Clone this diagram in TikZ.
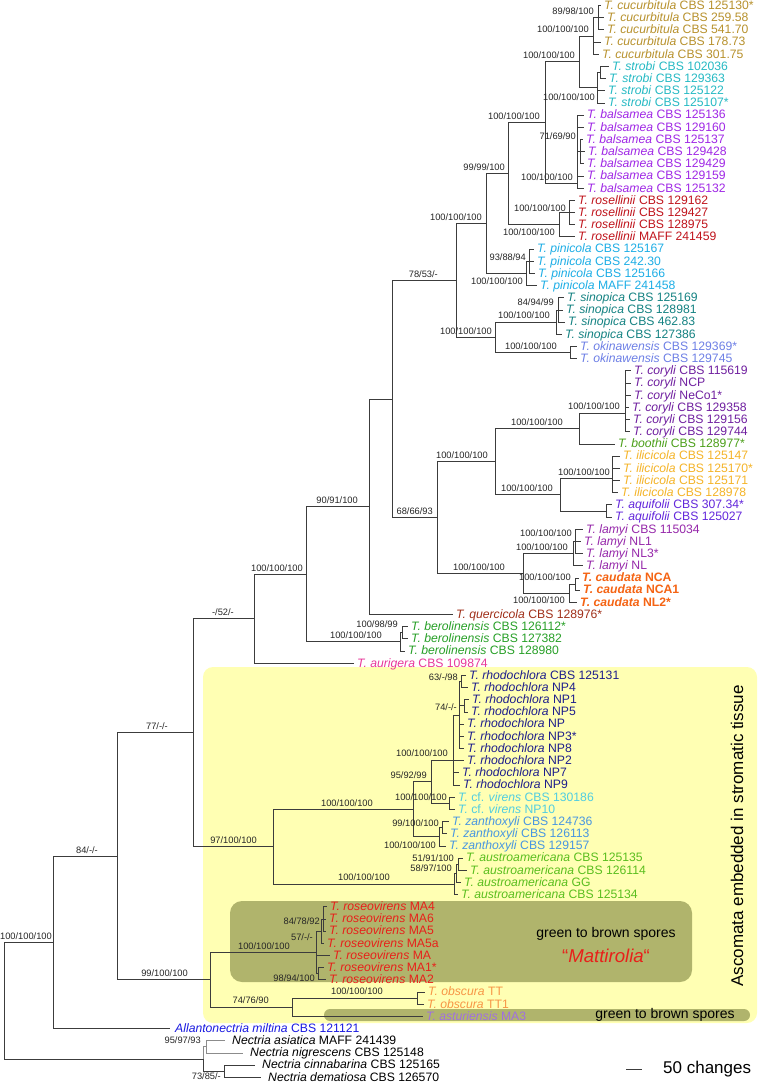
\documentclass[tikz,border=0pt]{standalone}
\usepackage{fontspec}
\setmainfont{Liberation Sans}
\usetikzlibrary{calc}
\definecolor{linecol}{RGB}{60,60,60}
\definecolor{yellowbox}{RGB}{255,255,179}
\definecolor{olivebox}{RGB}{176,180,108}
\definecolor{cCuc}{RGB}{184,146,46}
\definecolor{cStr}{RGB}{38,186,196}
\definecolor{cBal}{RGB}{160,40,230}
\definecolor{cRos}{RGB}{192,20,28}
\definecolor{cPin}{RGB}{30,174,230}
\definecolor{cSin}{RGB}{20,130,130}
\definecolor{cOki}{RGB}{110,128,230}
\definecolor{cCor}{RGB}{112,32,160}
\definecolor{cBoo}{RGB}{76,160,26}
\definecolor{cIli}{RGB}{245,180,40}
\definecolor{cAqu}{RGB}{100,40,220}
\definecolor{cLam}{RGB}{150,40,170}
\definecolor{cCau}{RGB}{245,100,20}
\definecolor{cQue}{RGB}{160,48,26}
\definecolor{cBer}{RGB}{40,160,40}
\definecolor{cAur}{RGB}{232,56,154}
\definecolor{cRho}{RGB}{30,30,140}
\definecolor{cVir}{RGB}{80,205,225}
\definecolor{cZan}{RGB}{72,150,225}
\definecolor{cAus}{RGB}{90,190,30}
\definecolor{cRsv}{RGB}{232,32,26}
\definecolor{cObs}{RGB}{247,150,70}
\definecolor{cAst}{RGB}{160,112,224}
\definecolor{cAll}{RGB}{26,26,224}
\tikzset{
  br/.style={draw=linecol, line width=0.85pt},
  brg/.style={draw=black!45, line width=0.85pt},
  taxon/.style={font=\fontsize{12.2}{14}\selectfont, inner sep=0pt, anchor=west, text height=7.6pt, text depth=0pt},
  sup/.style={font=\fontsize{9.3}{10}\selectfont, inner sep=0pt, anchor=east, text height=6.7pt, text depth=0pt, text=black!85},
}
\newcommand\tgap{3}
\newcommand\mytaxon[5]{%
  \coordinate (#1) at ({#2-\tgap},{5.5+12.18*#3});
  \node[taxon,text=#4] (#1l) at (#2,{5.5+12.18*#3}) {#5};}
\newcommand\kids[3][br]{\foreach \kid in {#3}{\draw[#1] (#2) |- (\kid);}}
\newcommand\suplab[4]{\node[sup] (#1) at (#2,#3) {#4};}
\begin{document}
\begin{tikzpicture}[x=1pt,y=-1pt]
\useasboundingbox (0,0) rectangle (760,1082);
\fill[white] (0,0) rectangle (760,1082);
% shaded regions
\fill[yellowbox, rounded corners=10pt] (203,667) rectangle (757,1023);
\fill[olivebox, rounded corners=12pt] (230,901) rectangle (692,982);
\fill[olivebox, rounded corners=6pt] (324,1009) rectangle (750,1021);
\node[font=\fontsize{14}{16}\selectfont, inner sep=0pt] (gb1) at (606,934) {green to brown spores};
\node[font=\fontsize{18.6}{20}\selectfont, inner sep=0pt, text=cRsv] (matt) at (606,956) {“\textit{Mattirolia}“};
\node[font=\fontsize{14}{16}\selectfont, inner sep=0pt] (gb2) at (665,1015) {green to brown spores};
\node[font=\fontsize{17}{19}\selectfont, inner sep=0pt, rotate=90] (asc) at (737,836) {Ascomata embedded in stromatic tissue};
% internal nodes
\coordinate (cu1) at (598,17.7);
\coordinate (cu) at (593,36);
\coordinate (st1) at (600,72.5);
\coordinate (st) at (597,87.7);
\coordinate (A) at (579,61.9);
\coordinate (ba1) at (580,151.7);
\coordinate (ba) at (577,183);
\coordinate (n545) at (545,122.5);
\coordinate (ro1) at (569,212.6);
\coordinate (ro) at (559,224.7);
\coordinate (n508) at (508,173.6);
\coordinate (pi1) at (529,261.3);
\coordinate (pi) at (526,273.5);
\coordinate (n486) at (486,223.5);
\coordinate (si1) at (558,310);
\coordinate (si) at (556,322.2);
\coordinate (ok) at (570,352.6);
\coordinate (n495a) at (495,337.4);
\coordinate (n456) at (456,280.5);
\coordinate (co) at (625,413);
\coordinate (n579) at (579,428.5);
\coordinate (il) at (612,478);
\coordinate (aq) at (606,511);
\coordinate (n560) at (560,494.5);
\coordinate (n495b) at (495,461.5);
\coordinate (la1) at (575,541.4);
\coordinate (la) at (573,553.6);
\coordinate (ca1) at (575,584);
\coordinate (ca) at (569,593.2);
\coordinate (n523) at (523,573.4);
\coordinate (n437) at (437,517.5);
\coordinate (n392) at (392,399);
\coordinate (n369) at (369,506.7);
\coordinate (be1) at (402,632.8);
\coordinate (be) at (400,641.9);
\coordinate (n306) at (306,574.3);
\coordinate (n254) at (254,618.8);
\coordinate (rh1) at (461,681.5);
\coordinate (rh2) at (464,705.9);
\coordinate (rh3) at (459,715);
\coordinate (rh) at (453,760);
\coordinate (vi) at (449,803.3);
\coordinate (n431) at (431,781.7);
\coordinate (za1) at (442,827.7);
\coordinate (za) at (439,836.8);
\coordinate (n413) at (413,809.2);
\coordinate (au1) at (458,864.2);
\coordinate (au2) at (456,873.4);
\coordinate (au) at (454,884);
\coordinate (n273) at (273,846.6);
\coordinate (n193) at (193,732.7);
\coordinate (rs1) at (323,919);
\coordinate (rs2) at (321,931.2);
\coordinate (rs3) at (318,973.8);
\coordinate (rs) at (316,952.5);
\coordinate (ob) at (417,998.2);
\coordinate (n292) at (292,1007.3);
\coordinate (n210) at (210,979.9);
\coordinate (n117) at (117,856.3);
\coordinate (n53) at (53,942.5);
\coordinate (ne1) at (206,1046.9);
\coordinate (ne2) at (224,1071.3);
\coordinate (ne) at (203,1059.1);
\coordinate (root) at (4,1000.8);
% taxa
\mytaxon{t0}{604}{0}{cCuc}{\textit{T. cucurbitula} CBS 125130*}
\mytaxon{t1}{607}{1}{cCuc}{\textit{T. cucurbitula} CBS 259.58}
\mytaxon{t2}{607}{2}{cCuc}{\textit{T. cucurbitula} CBS 541.70}
\mytaxon{t3}{604}{3}{cCuc}{\textit{T. cucurbitula} CBS 178.73}
\mytaxon{t4}{602}{4}{cCuc}{\textit{T. cucurbitula} CBS 301.75}
\mytaxon{t5}{612}{5}{cStr}{\textit{T. strobi} CBS 102036}
\mytaxon{t6}{609}{6}{cStr}{\textit{T. strobi} CBS 129363}
\mytaxon{t7}{608}{7}{cStr}{\textit{T. strobi} CBS 125122}
\mytaxon{t8}{608}{8}{cStr}{\textit{T. strobi} CBS 125107*}
\mytaxon{t9}{587}{9}{cBal}{\textit{T. balsamea} CBS 125136}
\mytaxon{t10}{587}{10}{cBal}{\textit{T. balsamea} CBS 129160}
\mytaxon{t11}{586}{11}{cBal}{\textit{T. balsamea} CBS 125137}
\mytaxon{t12}{588}{12}{cBal}{\textit{T. balsamea} CBS 129428}
\mytaxon{t13}{587}{13}{cBal}{\textit{T. balsamea} CBS 129429}
\mytaxon{t14}{587}{14}{cBal}{\textit{T. balsamea} CBS 129159}
\mytaxon{t15}{587}{15}{cBal}{\textit{T. balsamea} CBS 125132}
\mytaxon{t16}{578}{16}{cRos}{\textit{T. rosellinii} CBS 129162}
\mytaxon{t17}{578}{17}{cRos}{\textit{T. rosellinii} CBS 129427}
\mytaxon{t18}{578}{18}{cRos}{\textit{T. rosellinii} CBS 128975}
\mytaxon{t19}{578}{19}{cRos}{\textit{T. rosellinii} MAFF 241459}
\mytaxon{t20}{537}{20}{cPin}{\textit{T. pinicola} CBS 125167}
\mytaxon{t21}{537}{21}{cPin}{\textit{T. pinicola} CBS 242.30}
\mytaxon{t22}{538}{22}{cPin}{\textit{T. pinicola} CBS 125166}
\mytaxon{t23}{540}{23}{cPin}{\textit{T. pinicola} MAFF 241458}
\mytaxon{t24}{567}{24}{cSin}{\textit{T. sinopica} CBS 125169}
\mytaxon{t25}{566}{25}{cSin}{\textit{T. sinopica} CBS 128981}
\mytaxon{t26}{568}{26}{cSin}{\textit{T. sinopica} CBS 462.83}
\mytaxon{t27}{565}{27}{cSin}{\textit{T. sinopica} CBS 127386}
\mytaxon{t28}{580}{28}{cOki}{\textit{T. okinawensis} CBS 129369*}
\mytaxon{t29}{580}{29}{cOki}{\textit{T. okinawensis} CBS 129745}
\mytaxon{t30}{634}{30}{cCor}{\textit{T. coryli} CBS 115619}
\mytaxon{t31}{634}{31}{cCor}{\textit{T. coryli} NCP}
\mytaxon{t32}{634}{32}{cCor}{\textit{T. coryli} NeCo1*}
\mytaxon{t33}{632}{33}{cCor}{\textit{T. coryli} CBS 129358}
\mytaxon{t34}{633}{34}{cCor}{\textit{T. coryli} CBS 129156}
\mytaxon{t35}{633}{35}{cCor}{\textit{T. coryli} CBS 129744}
\mytaxon{t36}{618}{36}{cBoo}{\textit{T. boothii} CBS 128977*}
\mytaxon{t37}{623}{37}{cIli}{\textit{T. ilicicola} CBS 125147}
\mytaxon{t38}{623}{38}{cIli}{\textit{T. ilicicola} CBS 125170*}
\mytaxon{t39}{623}{39}{cIli}{\textit{T. ilicicola} CBS 125171}
\mytaxon{t40}{621}{40}{cIli}{\textit{T. ilicicola} CBS 128978}
\mytaxon{t41}{615}{41}{cAqu}{\textit{T. aquifolii} CBS 307.34*}
\mytaxon{t42}{615}{42}{cAqu}{\textit{T. aquifolii} CBS 125027}
\mytaxon{t43}{586}{43}{cLam}{\textit{T. lamyi} CBS 115034}
\mytaxon{t44}{584}{44}{cLam}{\textit{T. lamyi} NL1}
\mytaxon{t45}{586}{45}{cLam}{\textit{T. lamyi} NL3*}
\mytaxon{t46}{586}{46}{cLam}{\textit{T. lamyi} NL}
\mytaxon{t47}{582}{47}{cCau}{\bfseries\textit{T. caudata} NCA}
\mytaxon{t48}{583}{48}{cCau}{\bfseries\textit{T. caudata} NCA1}
\mytaxon{t49}{580}{49}{cCau}{\bfseries\textit{T. caudata} NL2*}
\mytaxon{t50}{456}{50}{cQue}{\textit{T. quercicola} CBS 128976*}
\mytaxon{t51}{411}{51}{cBer}{\textit{T. berolinensis} CBS 126112*}
\mytaxon{t52}{411}{52}{cBer}{\textit{T. berolinensis} CBS 127382}
\mytaxon{t53}{408}{53}{cBer}{\textit{T. berolinensis} CBS 128980}
\mytaxon{t54}{357}{54}{cAur}{\textit{T. aurigera} CBS 109874}
\mytaxon{t55}{469}{55}{cRho}{\textit{T. rhodochlora} CBS 125131}
\mytaxon{t56}{471}{56}{cRho}{\textit{T. rhodochlora} NP4}
\mytaxon{t57}{472}{57}{cRho}{\textit{T. rhodochlora} NP1}
\mytaxon{t58}{471}{58}{cRho}{\textit{T. rhodochlora} NP5}
\mytaxon{t59}{467}{59}{cRho}{\textit{T. rhodochlora} NP}
\mytaxon{t60}{467}{60}{cRho}{\textit{T. rhodochlora} NP3*}
\mytaxon{t61}{467}{61}{cRho}{\textit{T. rhodochlora} NP8}
\mytaxon{t62}{467}{62}{cRho}{\textit{T. rhodochlora} NP2}
\mytaxon{t63}{462}{63}{cRho}{\textit{T. rhodochlora} NP7}
\mytaxon{t64}{463}{64}{cRho}{\textit{T. rhodochlora} NP9}
\mytaxon{t65}{458}{65}{cVir}{\textit{T.} cf. \textit{virens} CBS 130186}
\mytaxon{t66}{458}{66}{cVir}{\textit{T.} cf. \textit{virens} NP10}
\mytaxon{t67}{452}{67}{cZan}{\textit{T. zanthoxyli} CBS 124736}
\mytaxon{t68}{450}{68}{cZan}{\textit{T. zanthoxyli} CBS 126113}
\mytaxon{t69}{449}{69}{cZan}{\textit{T. zanthoxyli} CBS 129157}
\mytaxon{t70}{466}{70}{cAus}{\textit{T. austroamericana} CBS 125135}
\mytaxon{t71}{470}{71}{cAus}{\textit{T. austroamericana} CBS 126114}
\mytaxon{t72}{464}{72}{cAus}{\textit{T. austroamericana} GG}
\mytaxon{t73}{461}{73}{cAus}{\textit{T. austroamericana} CBS 125134}
\mytaxon{t74}{330}{74}{cRsv}{\textit{T. roseovirens} MA4}
\mytaxon{t75}{329}{75}{cRsv}{\textit{T. roseovirens} MA6}
\mytaxon{t76}{329}{76}{cRsv}{\textit{T. roseovirens} MA5}
\mytaxon{t77}{327}{77}{cRsv}{\textit{T. roseovirens} MA5a}
\mytaxon{t78}{333}{78}{cRsv}{\textit{T. roseovirens} MA}
\mytaxon{t79}{327}{79}{cRsv}{\textit{T. roseovirens} MA1*}
\mytaxon{t80}{329}{80}{cRsv}{\textit{T. roseovirens} MA2}
\mytaxon{t81}{428}{81}{cObs}{\textit{T. obscura} TT}
\mytaxon{t82}{427}{82}{cObs}{\textit{T. obscura} TT1}
\mytaxon{t83}{426}{83}{cAst}{\textit{T. asturiensis} MA3}
\renewcommand\tgap{5}
\mytaxon{t84}{175}{84}{cAll}{\textit{Allantonectria miltina} CBS 121121}
\renewcommand\tgap{7}
\mytaxon{t85}{232}{85}{black}{\textit{Nectria asiatica} MAFF 241439}
\mytaxon{t86}{250}{86}{black}{\textit{Nectria nigrescens} CBS 125148}
\mytaxon{t87}{262}{87}{black}{\textit{Nectria cinnabarina} CBS 125165}
\mytaxon{t88}{268}{88}{black}{\textit{Nectria dematiosa} CBS 126570}
% branches
\kids{cu1}{t0,t1,t2}
\kids{cu}{cu1,t3,t4}
\kids{st1}{t5,t6}
\kids{st}{st1,t7,t8}
\kids{A}{cu,st}
\kids{ba1}{t11,t12,t13}
\kids{ba}{t9,t10,ba1,t14,t15}
\kids{n545}{A,ba}
\kids{ro1}{t16,t17,t18}
\kids{ro}{ro1,t19}
\kids{n508}{n545,ro}
\kids{pi1}{t20,t21,t22}
\kids{pi}{pi1,t23}
\kids{n486}{n508,pi}
\kids{si1}{t24,t25,t26}
\kids{si}{si1,t27}
\kids{ok}{t28,t29}
\kids{n495a}{si,ok}
\kids{n456}{n486,n495a}
\kids{co}{t30,t31,t32,t33,t34,t35}
\kids{n579}{co,t36}
\kids{il}{t37,t38,t39,t40}
\kids{aq}{t41,t42}
\kids{n560}{il,aq}
\kids{n495b}{n579,n560}
\kids{la1}{t43,t44,t45}
\kids{la}{la1,t46}
\kids{ca1}{t47,t48}
\kids{ca}{ca1,t49}
\kids{n523}{la,ca}
\kids{n437}{n495b,n523}
\kids{n392}{n456,n437}
\kids{n369}{n392,t50}
\kids{be1}{t51,t52}
\kids{be}{be1,t53}
\kids{n306}{n369,be}
\kids{n254}{n306,t54}
\kids{rh1}{t55,t56}
\kids{rh2}{t57,t58}
\kids{rh3}{rh1,rh2,t59,t60,t61}
\kids{rh}{rh3,t62,t63,t64}
\kids{vi}{t65,t66}
\kids{n431}{rh,vi}
\kids{za1}{t67,t68}
\kids{za}{za1,t69}
\kids{n413}{n431,za}
\kids{au1}{t70,t71}
\kids{au2}{au1,t72}
\kids{au}{au2,t73}
\kids{n273}{n413,au}
\kids{n193}{n254,n273}
\kids{rs1}{t74,t75,t76}
\kids{rs2}{rs1,t77}
\kids{rs3}{t79,t80}
\kids{rs}{rs2,t78,rs3}
\kids{ob}{t81,t82}
\kids{n292}{ob,t83}
\kids{n210}{rs,n292}
\kids{n117}{n193,n210}
\kids{n53}{n117,t84}
\kids[brg]{ne1}{t85,t86}
\kids{ne2}{t87,t88}
\kids[brg]{ne}{ne1}
\kids{ne}{ne2}
\kids{root}{n53,ne}
% support values
\suplab{l1}{594}{11}{89/98/100}
\suplab{l2}{589}{29}{100/100/100}
\suplab{l3}{595}{97}{100/100/100}
\suplab{l4}{575}{55}{100/100/100}
\suplab{l5}{576}{136}{71/69/90}
\suplab{l6}{573}{177}{100/100/100}
\suplab{l7}{540}{116}{100/100/100}
\suplab{l8}{505}{167}{99/99/100}
\suplab{l9}{566}{208}{100/100/100}
\suplab{l10}{555}{232}{100/100/100}
\suplab{l11}{526}{257}{93/88/94}
\suplab{l12}{523}{281}{100/100/100}
\suplab{l13}{482}{217}{100/100/100}
\suplab{l14}{554}{302}{84/94/99}
\suplab{l15}{550}{315}{100/100/100}
\suplab{l16}{557}{346}{100/100/100}
\suplab{l17}{492}{331}{100/100/100}
\suplab{l18}{438}{274}{78/53/-}
\suplab{l19}{620}{406}{100/100/100}
\suplab{l20}{563}{422}{100/100/100}
\suplab{l21}{610}{472}{100/100/100}
\suplab{l22}{553}{488}{100/100/100}
\suplab{l23}{488}{455}{100/100/100}
\suplab{l24}{572}{533}{100/100/100}
\suplab{l25}{568}{547}{100/100/100}
\suplab{l26}{571}{577}{100/100/100}
\suplab{l27}{565}{600}{100/100/100}
\suplab{l28}{505}{567}{100/100/100}
\suplab{l29}{433}{511}{68/66/93}
\suplab{l30}{358}{500}{90/91/100}
\suplab{l31}{398}{624}{100/98/99}
\suplab{l32}{382}{635}{100/100/100}
\suplab{l33}{303}{568}{100/100/100}
\suplab{l34}{234}{612}{-/52/-}
\suplab{l35}{458}{677}{63/-/98}
\suplab{l36}{457}{707}{74/-/-}
\suplab{l37}{448}{753}{100/100/100}
\suplab{l38}{427}{775}{95/92/99}
\suplab{l39}{447}{797}{100/100/100}
\suplab{l40}{439}{823}{99/100/100}
\suplab{l41}{436}{845}{100/100/100}
\suplab{l42}{373}{803}{100/100/100}
\suplab{l43}{454}{858}{51/91/100}
\suplab{l44}{452}{868}{58/97/100}
\suplab{l45}{390}{877}{100/100/100}
\suplab{l46}{257}{840}{97/100/100}
\suplab{l47}{168}{726}{77/-/-}
\suplab{l48}{320}{921}{84/78/92}
\suplab{l49}{313}{937}{57/-/-}
\suplab{l50}{315}{978}{98/94/100}
\suplab{l51}{290}{946}{100/100/100}
\suplab{l52}{383}{991}{100/100/100}
\suplab{l53}{269}{1000}{74/76/90}
\suplab{l54}{188}{973}{99/100/100}
\suplab{l55}{98}{850}{84/-/-}
\suplab{l56}{52}{936}{100/100/100}
\suplab{l57}{201}{1040}{95/97/93}
\suplab{l58}{221}{1076.5}{73/85/-}
% scale bar
\coordinate (sb1) at (626,1069);
\coordinate (sb2) at (642,1069);
\draw[br] (sb1) -- (sb2);
\node[font=\fontsize{17}{19}\selectfont, inner sep=0pt, anchor=west] (sbl) at (663,1069) {50 changes};
\end{tikzpicture}
\end{document}
